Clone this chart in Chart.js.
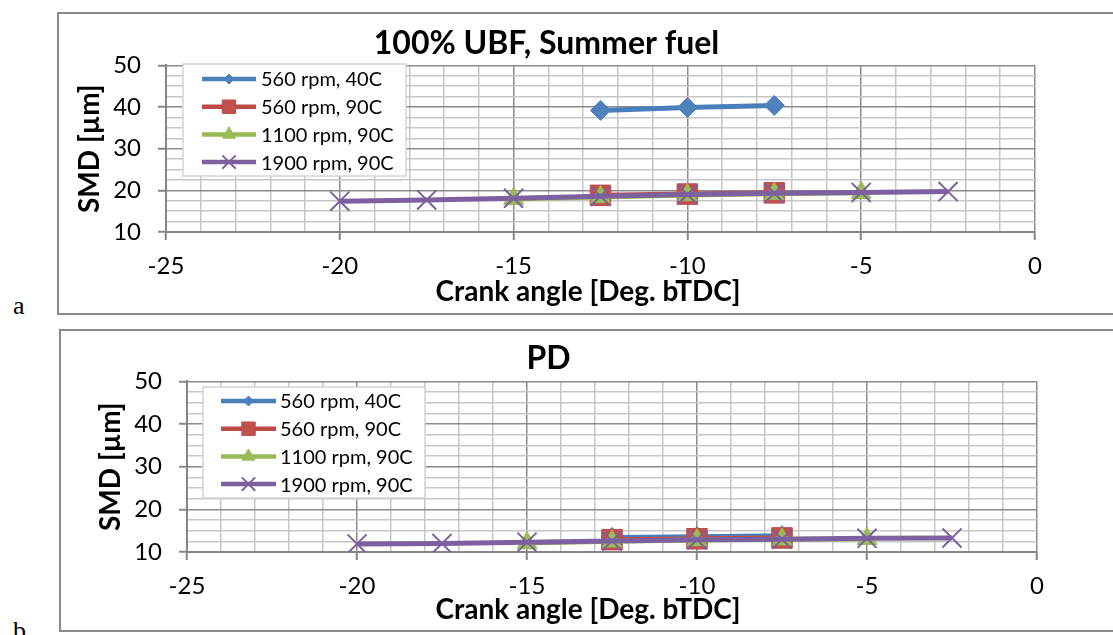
<!DOCTYPE html>
<html>
<head>
<meta charset="utf-8">
<script src="https://cdn.jsdelivr.net/npm/chart.js@4.4.1/dist/chart.umd.min.js"></script>
<style>
body { margin: 0; background: #fff; width: 1113px; height: 635px; overflow: hidden; position: relative; }
.frame { position: absolute; border: 2px solid #898989; box-sizing: border-box; }
canvas { position: absolute; }
.tag { position: absolute; font-family: "Liberation Serif", serif; font-size: 26px; line-height: 1; }
</style>
</head>
<body>
<div class="frame" style="left:57px;top:12px;width:1080px;height:303px"></div>
<div class="frame" style="left:59px;top:329px;width:1080px;height:303px"></div>
<canvas id="chartUbf" width="1030" height="301" style="left:58px;top:13px"></canvas>
<canvas id="chartPd" width="1042" height="302" style="left:60px;top:330px"></canvas>
<div class="tag" style="left:13px;top:293px">a</div>
<div class="tag" style="left:13px;top:618px">b</div>
<script>
// crank angles for each series
var angles560_40 = [-12.5, -10, -7.5];
var angles560_90 = [-12.5, -10, -7.5];
var angles1100_90 = [-15, -12.5, -10, -7.5, -5];
var angles1900_90 = [-20, -17.5, -15, -12.5, -10, -7.5, -5, -2.5];
var seriesNames = ['560 rpm, 40C', '560 rpm, 90C', '1100 rpm, 90C', '1900 rpm, 90C'];
var xTickLabels = [-25, -20, -15, -10, -5, 0];
var yTickLabels = [10, 20, 30, 40, 50];

// SMD, 100% UBF summer fuel
var ubf560_40 = [39.2, 39.9, 40.4];
var ubf560_90 = [18.8, 19.1, 19.4];
var ubf1100_90 = [18.0, 18.4, 18.9, 19.2, 19.4];
var ubf1900_90 = [17.4, 17.7, 18.1, 18.6, 19.0, 19.3, 19.5, 19.7];

// SMD, PD
var pd560_40 = [13.4, 13.6, 13.8];
var pd560_90 = [12.9, 13.1, 13.3];
var pd1100_90 = [12.1, 12.5, 12.8, 13.0, 13.1];
var pd1900_90 = [11.9, 12.0, 12.3, 12.6, 12.9, 13.0, 13.2, 13.3];

var angleSets = [angles560_40, angles560_90, angles1100_90, angles1900_90];

var seriesStyle = [
    { line: '#4a7ebb', fill: '#4f81bd', point: 'rectRot', r: 10, lr: 5 },
    { line: '#be4b48', fill: '#c0504d', point: 'rect', r: 14.5, lr: 9.5 },
    { line: '#98b954', fill: '#9bbb59', point: 'triangle', r: 11.5, lr: 7.5 },
    { line: '#7d60a0', fill: '#8064a2', point: 'crossRot', r: 13.5, lr: 9.5 }
];

var majorGrid = '#8c8c8c';
var minorGrid = '#c6c6c6';

// excel style legend: line with marker, boxed, inside the plot
var excelLegend = {
    id: 'excelLegend',
    afterDraw: function (chart, args, o) {
        var ctx = chart.ctx;
        ctx.save();
        ctx.fillStyle = '#fff';
        ctx.strokeStyle = '#d4d4d4';
        ctx.lineWidth = 1.5;
        ctx.fillRect(o.x, o.y, o.w, o.h);
        ctx.strokeRect(o.x, o.y, o.w, o.h);
        ctx.font = '20px Lato';
        ctx.textBaseline = 'middle';
        ctx.textAlign = 'left';
        seriesNames.forEach(function (name, i) {
            var st = seriesStyle[i];
            var y = o.row0 + i * o.rowStep;
            ctx.strokeStyle = st.line;
            ctx.lineWidth = 4.5;
            ctx.beginPath();
            ctx.moveTo(o.lineX0, y);
            ctx.lineTo(o.lineX1, y);
            ctx.stroke();
            ctx.fillStyle = st.fill;
            ctx.strokeStyle = st.line;
            ctx.lineWidth = st.point === 'crossRot' ? 2 : 1;
            Chart.helpers.drawPoint(ctx, { pointStyle: st.point, radius: st.lr, rotation: 0, borderWidth: ctx.lineWidth }, (o.lineX0 + o.lineX1) / 2, y);
            ctx.fillStyle = '#000';
            ctx.fillText(name, o.textX, y + 1);
        });
        ctx.restore();
    }
};

var xAxisTitle = {
    id: 'xAxisTitle',
    afterDraw: function (chart, args, o) {
        var ctx = chart.ctx;
        ctx.save();
        ctx.font = 'bold 28px Lato';
        ctx.fillStyle = '#000';
        ctx.textAlign = 'center';
        ctx.textBaseline = 'middle';
        ctx.fillText(o.text, o.x, o.y);
        ctx.restore();
    }
};

function gridColor(ctx) {
    if (!ctx.tick) return minorGrid;
    var v = ctx.tick.value;
    if (ctx.scale.axis === 'x') return v % 5 === 0 ? majorGrid : minorGrid;
    return v % 10 === 0 ? majorGrid : minorGrid;
}

function tickMarkColor(ctx) {
    if (!ctx.tick) return 'transparent';
    var v = ctx.tick.value;
    if (ctx.scale.axis === 'x') return xTickLabels.includes(v) ? '#868686' : 'transparent';
    return yTickLabels.includes(v) ? '#868686' : 'transparent';
}

function makeChart(id, titleText, values, lay) {
    var datasets = seriesNames.map(function (name, i) {
        var st = seriesStyle[i];
        return {
            label: name,
            data: angleSets[i].map(function (x, j) { return { x: x, y: values[i][j] }; }),
            borderColor: st.line,
            backgroundColor: st.fill,
            borderWidth: 5,
            pointStyle: st.point,
            pointRadius: st.r,
            pointBackgroundColor: st.fill,
            pointBorderColor: st.line,
            pointBorderWidth: st.point === 'crossRot' ? 2 : 1,
            order: 3 - i,
            tension: 0
        };
    });

    return new Chart(document.getElementById(id), {
        type: 'line',
        data: { datasets: datasets },
        plugins: [excelLegend, xAxisTitle],
        options: {
            responsive: false,
            animation: false,
            events: [],
            layout: { padding: { left: 0, top: 0, bottom: 0, right: lay.padRight } },
            plugins: {
                legend: { display: false },
                tooltip: { enabled: false },
                title: {
                    display: true,
                    text: titleText,
                    color: '#000',
                    font: { family: 'Lato', size: 32, weight: 'bold', lineHeight: 1.2 },
                    padding: { top: lay.titleTop, bottom: lay.titleBottom }
                },
                excelLegend: lay.legend,
                xAxisTitle: { text: 'Crank angle [Deg. bTDC]', x: lay.xTitleX, y: lay.xTitleY }
            },
            scales: {
                x: {
                    type: 'linear',
                    min: -25,
                    max: 0,
                    afterFit: function (s) { s.height = lay.xHeight; },
                    ticks: {
                        stepSize: 1,
                        autoSkip: false,
                        maxRotation: 0,
                        padding: 12,
                        color: '#000',
                        font: { family: 'Lato', size: 24 },
                        callback: function (v) { return xTickLabels.includes(v) ? String(v) : ''; }
                    },
                    grid: { color: gridColor, lineWidth: 1.5, tickLength: 8, tickColor: tickMarkColor, tickWidth: 2 },
                    border: { color: '#868686', width: 2 }
                },
                y: {
                    type: 'linear',
                    min: 10,
                    max: 50,
                    afterFit: function (s) { s.width = lay.yWidth; },
                    ticks: {
                        stepSize: 2.5,
                        autoSkip: false,
                        padding: 17,
                        color: '#000',
                        font: { family: 'Lato', size: 24 },
                        callback: function (v) { return yTickLabels.includes(v) ? String(v) : ''; }
                    },
                    grid: { color: gridColor, lineWidth: 1.5, tickLength: 8, tickColor: tickMarkColor, tickWidth: 2 },
                    border: { color: '#868686', width: 2 },
                    title: {
                        display: true,
                        text: 'SMD [µm]',
                        color: '#000',
                        font: { family: 'Lato', size: 28, weight: 'bold', lineHeight: 1.2 },
                        padding: { top: lay.yTitlePad, bottom: 0 }
                    }
                }
            }
        }
    });
}

makeChart('chartUbf', '100% UBF, Summer fuel',
    [ubf560_40, ubf560_90, ubf1100_90, ubf1900_90],
    {
        padRight: 53, titleTop: 11, titleBottom: 3, xHeight: 82, yWidth: 108, yTitlePad: 15,
        xTitleX: 530, xTitleY: 279,
        legend: { x: 125, y: 51, w: 223, h: 112, row0: 66, rowStep: 27.7, lineX0: 144, lineX1: 198, textX: 203 }
    });

makeChart('chartPd', 'PD',
    [pd560_40, pd560_90, pd1100_90, pd1900_90],
    {
        padRight: 65, titleTop: 9, titleBottom: 4, xHeight: 80, yWidth: 127, yTitlePad: 34,
        xTitleX: 528, xTitleY: 280,
        legend: { x: 143, y: 57, w: 222, h: 111, row0: 71, rowStep: 27.7, lineX0: 161, lineX1: 216, textX: 220 }
    });
</script>
</body>
</html>
